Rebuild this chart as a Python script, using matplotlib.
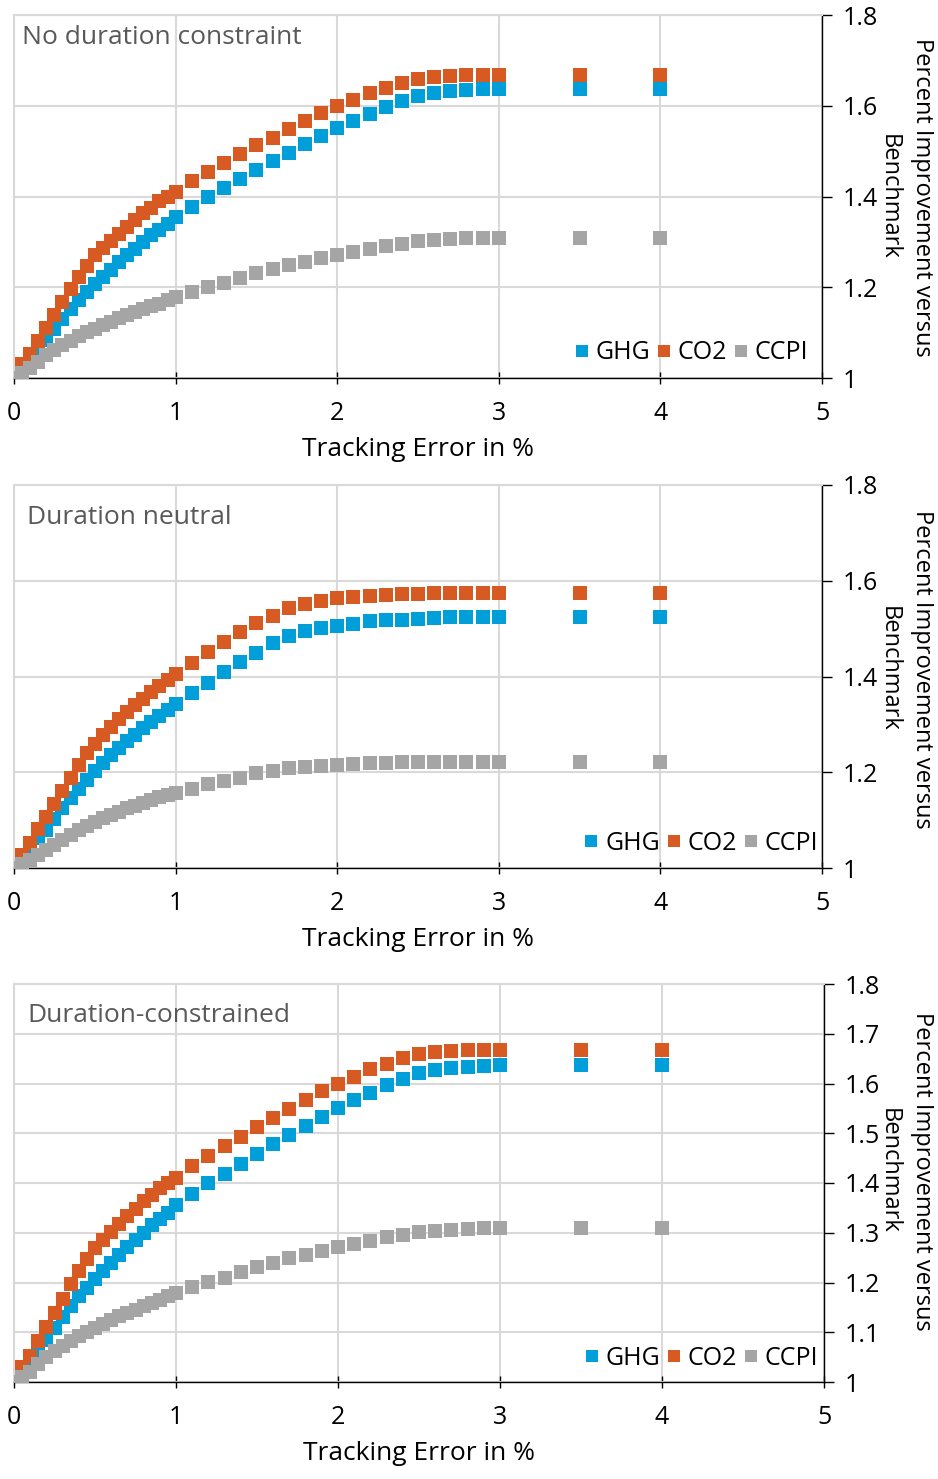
import matplotlib
matplotlib.use("Agg")
import matplotlib.pyplot as plt
from matplotlib.ticker import FuncFormatter

plt.rcParams['font.family'] = ['Open Sans', 'DejaVu Sans']

# tracking error (%) sampled in the chart
te = [0, 0.05, 0.1, 0.15, 0.2, 0.25, 0.3, 0.35, 0.4, 0.45, 0.5,
      0.55, 0.6, 0.65, 0.7, 0.75, 0.8, 0.85, 0.9, 0.95, 1.0,
      1.1, 1.2, 1.3, 1.4, 1.5, 1.6, 1.7, 1.8, 1.9, 2.0,
      2.1, 2.2, 2.3, 2.4, 2.5, 2.6, 2.7, 2.8, 2.9, 3.0,
      3.5, 4.0]

# no duration constraint
ghg_free = [1.0, 1.02, 1.04, 1.058, 1.084, 1.109, 1.131, 1.153, 1.172, 1.189, 1.207,
            1.223, 1.239, 1.256, 1.271, 1.285, 1.300, 1.315, 1.327, 1.340, 1.355,
            1.377, 1.399, 1.419, 1.439, 1.458, 1.478, 1.496, 1.515, 1.533, 1.551,
            1.566, 1.581, 1.597, 1.610, 1.621, 1.628, 1.632, 1.634, 1.636, 1.638,
            1.638, 1.638]
co2_free = [1.0, 1.03, 1.053, 1.082, 1.11, 1.139, 1.167, 1.197, 1.223, 1.247, 1.27,
            1.286, 1.302, 1.317, 1.333, 1.348, 1.363, 1.375, 1.389, 1.40, 1.41,
            1.434, 1.454, 1.474, 1.493, 1.513, 1.530, 1.548, 1.567, 1.584, 1.600,
            1.613, 1.629, 1.640, 1.651, 1.660, 1.664, 1.666, 1.668, 1.668, 1.668,
            1.668, 1.668]
ccpi_free = [1.0, 1.010, 1.021, 1.036, 1.051, 1.062, 1.073, 1.082, 1.092, 1.101, 1.109,
             1.117, 1.124, 1.132, 1.139, 1.145, 1.152, 1.158, 1.164, 1.172, 1.178,
             1.190, 1.201, 1.210, 1.221, 1.232, 1.240, 1.249, 1.255, 1.264, 1.271,
             1.278, 1.284, 1.291, 1.295, 1.302, 1.304, 1.306, 1.308, 1.309, 1.309,
             1.309, 1.309]

# duration neutral
ghg_neutral = [1.0, 1.02, 1.04, 1.062, 1.079, 1.102, 1.125, 1.146, 1.164, 1.184, 1.203,
               1.220, 1.236, 1.251, 1.265, 1.278, 1.292, 1.304, 1.318, 1.330, 1.343,
               1.366, 1.387, 1.410, 1.431, 1.450, 1.469, 1.485, 1.494, 1.502, 1.506,
               1.510, 1.515, 1.517, 1.519, 1.521, 1.523, 1.525, 1.525, 1.525, 1.525,
               1.525, 1.525]
co2_neutral = [1.0, 1.028, 1.053, 1.081, 1.107, 1.134, 1.161, 1.188, 1.216, 1.240, 1.259,
               1.278, 1.295, 1.311, 1.326, 1.340, 1.354, 1.368, 1.380, 1.393, 1.405,
               1.429, 1.451, 1.472, 1.493, 1.512, 1.527, 1.544, 1.551, 1.558, 1.563,
               1.567, 1.569, 1.571, 1.572, 1.573, 1.574, 1.574, 1.574, 1.574, 1.574,
               1.574, 1.574]
ccpi_neutral = [1.0, 1.008, 1.017, 1.027, 1.038, 1.048, 1.058, 1.069, 1.079, 1.088, 1.097,
                1.104, 1.111, 1.118, 1.125, 1.130, 1.135, 1.141, 1.148, 1.152, 1.157,
                1.164, 1.175, 1.181, 1.189, 1.198, 1.203, 1.208, 1.212, 1.214, 1.216,
                1.217, 1.219, 1.220, 1.221, 1.222, 1.222, 1.222, 1.222, 1.222, 1.222,
                1.222, 1.222]

# duration-constrained (same numbers as the unconstrained case in the source)
ghg_constr = list(ghg_free)
co2_constr = list(co2_free)
ccpi_constr = list(ccpi_free)

series_names = ['GHG', 'CO2', 'CCPI']
colors = ['#009FDA', '#D65A21', '#A5A5A5']
grid_c = '#D9D9D9'

W, H = 938, 1479
fig = plt.figure(figsize=(W / 100, H / 100), dpi=100)

panels = [
    dict(title='No duration constraint', data=(ghg_free, co2_free, ccpi_free),
         box=(14, 822, 15, 378), yticks=[1, 1.2, 1.4, 1.6, 1.8],
         tpos=(0.010, 0.939), leg=(0.983, 0.069), ylab_y=197),
    dict(title='Duration neutral', data=(ghg_neutral, co2_neutral, ccpi_neutral),
         box=(14, 822, 485, 868), yticks=[1, 1.2, 1.4, 1.6, 1.8],
         tpos=(0.016, 0.914), leg=(0.995, 0.065), ylab_y=669),
    dict(title='Duration-constrained', data=(ghg_constr, co2_constr, ccpi_constr),
         box=(14, 824, 984, 1382), yticks=[1, 1.1, 1.2, 1.3, 1.4, 1.5, 1.6, 1.7, 1.8],
         tpos=(0.016, 0.920), leg=(0.993, 0.060), ylab_y=1171),
]

for p in panels:
    x0, x1, y0, y1 = p['box']
    ax = fig.add_axes([x0 / W, 1 - y1 / H, (x1 - x0) / W, (y1 - y0) / H])
    for name, vals, c, z in zip(series_names, p['data'], colors, [3, 4, 5]):
        ax.plot(te, vals, linestyle='none', marker='s', markersize=10,
                color=c, markeredgewidth=0, label=name, zorder=z)
    ax.set_xlim(0, 5)
    ax.set_ylim(1, 1.8)
    ax.set_xticks([0, 1, 2, 3, 4, 5])
    ax.set_yticks(p['yticks'])
    ax.yaxis.set_major_formatter(FuncFormatter(lambda v, pos: '%g' % round(v, 2)))
    ax.yaxis.tick_right()
    ax.grid(True, color=grid_c, linewidth=1.5, zorder=0)
    ax.set_axisbelow(True)
    for s in ['left', 'top']:
        ax.spines[s].set_color(grid_c)
        ax.spines[s].set_linewidth(1.5)
    for s in ['bottom', 'right']:
        ax.spines[s].set_color('black')
        ax.spines[s].set_linewidth(1.0)
    ax.tick_params(axis='x', direction='inout', length=9, width=1.0,
                   labelsize=18, pad=12, colors='black')
    ax.tick_params(axis='y', direction='out', length=7, width=1.0,
                   labelsize=18, pad=8, colors='black', left=False)
    ax.set_xlabel('Tracking Error in %', fontsize=19, labelpad=8)
    ax.text(p['tpos'][0], p['tpos'][1], p['title'], transform=ax.transAxes,
            fontsize=19, color='#595959', ha='left', va='center')
    ax.legend(loc='center right', bbox_to_anchor=p['leg'], ncol=3, frameon=False,
              fontsize=18, markerscale=0.85, handlelength=0.6, handletextpad=0.25,
              columnspacing=0.25, borderpad=0, borderaxespad=0)
    fig.text(905 / W, 1 - p['ylab_y'] / H, 'Percent Improvement versus\nBenchmark',
             rotation=-90, ha='center', va='center', fontsize=17,
             multialignment='center', linespacing=1.5)

fig.savefig('out.png', dpi=100)
